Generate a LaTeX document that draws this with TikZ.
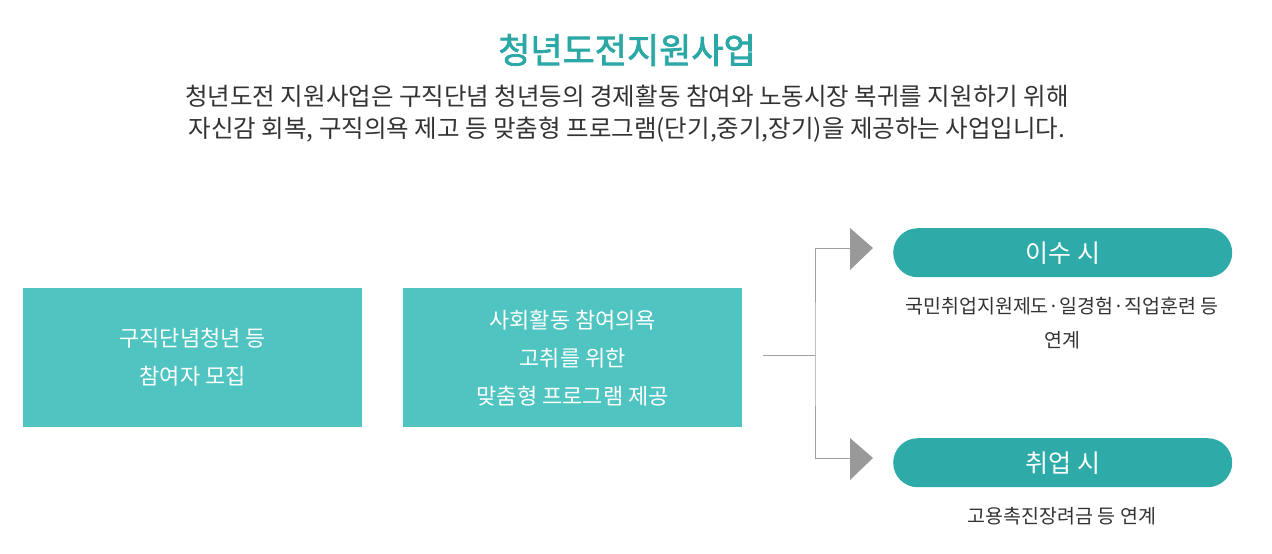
\documentclass[tikz,border=0pt]{standalone}
\usepackage{fontspec}
\setmainfont{Noto Sans CJK KR}
\newfontfamily\krbold{Noto Sans CJK KR}[FakeBold=2]
\definecolor{boxc}{HTML}{4FC4C1}
\definecolor{pillc}{HTML}{2EABA9}
\definecolor{titlec}{HTML}{2BA8A6}
\definecolor{txt}{HTML}{333333}
\definecolor{ln}{HTML}{A0A0A0}
\definecolor{tri}{HTML}{999999}
\begin{document}
\begin{tikzpicture}[x=1pt,y=-1pt,
  bx/.style={fill=boxc,minimum width=339pt,minimum height=139pt,anchor=north west,inner sep=0pt,text=white,font=\fontsize{22}{38}\selectfont,align=center},
  pill/.style={fill=pillc,rounded corners=24.5pt,minimum width=339pt,minimum height=49pt,anchor=north west,inner sep=0pt,text=white,font=\fontsize{25}{25}\selectfont},
  lbl/.style={text=txt,font=\fontsize{19.5}{34}\selectfont,align=center},
  conn/.style={draw=ln,line width=0.8pt},
  tr/.style={fill=tri}]
\useasboundingbox (0,0) rectangle (1272,554);
\node[text=titlec,font=\fontsize{35}{38}\selectfont] (title) at (627,50) {\krbold 청년도전지원사업};
\node[text=txt,font=\fontsize{24.5}{32}\selectfont,align=center] (sub) at (627,114) {청년도전 지원사업은 구직단념 청년등의 경제활동 참여와 노동시장 복귀를 지원하기 위해\\자신감 회복, 구직의욕 제고 등 맞춤형 프로그램(단기,중기,장기)을 제공하는 사업입니다.};
\node[bx] (b1) at (23,288) {구직단념청년 등\\참여자 모집};
\node[bx] (b2) at (403,288) {사회활동 참여의욕\\고취를 위한\\맞춤형 프로그램 제공};
\node[pill] (p1) at (893,228) {이수 시};
\node[pill] (p2) at (893,438) {취업 시};
\node[lbl] (l1) at (1062,323) {국민취업지원제도·일경험·직업훈련 등\\연계};
\node[lbl] (l2) at (1062,516) {고용촉진장려금 등 연계};
\coordinate (s) at (763,355);
\coordinate (m) at (815,355);
\coordinate (t1) at (850,248);
\coordinate (t2) at (850,458);
\draw[conn] (s) -- (m);
\draw[conn] (t1) -| (m) |- (t2);
\fill[tr] (850,228) -- (873,248) -- (850,270) -- cycle;
\fill[tr] (850,438) -- (873,458) -- (850,480) -- cycle;
\end{tikzpicture}
\end{document}
